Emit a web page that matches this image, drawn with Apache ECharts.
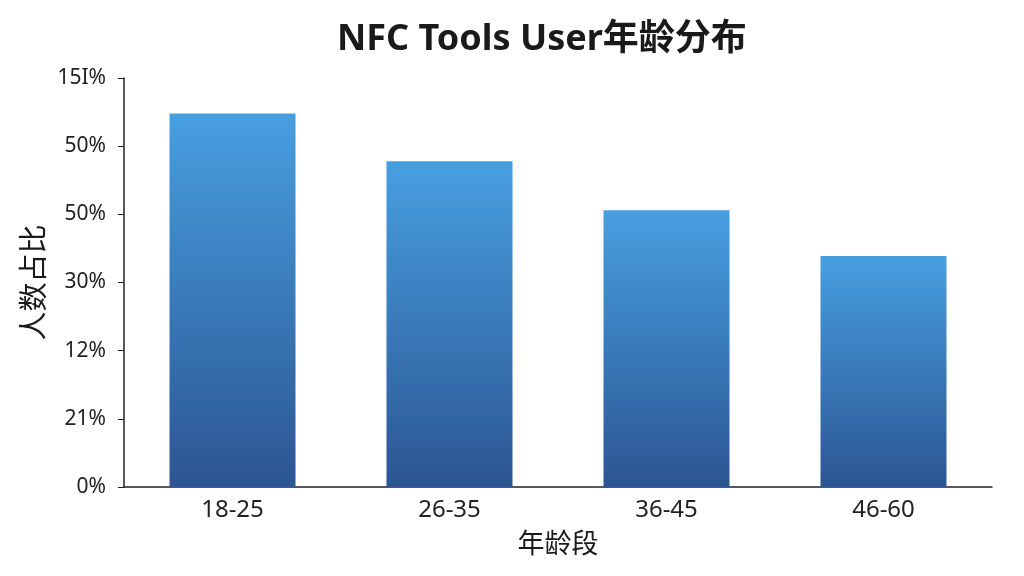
<!DOCTYPE html>
<html>
<head>
<meta charset="utf-8">
<script src="https://cdn.jsdelivr.net/npm/echarts@6/dist/echarts.min.js"></script>
<style>
  html, body { margin: 0; padding: 0; background: #fff; }
  #main { width: 1024px; height: 576px; }
</style>
</head>
<body>
<div id="main"></div>
<script>
// data
var ageGroups = ['18-25', '26-35', '36-45', '46-60'];
var userShare = [54.8, 47.8, 40.6, 33.9];
// tick labels exactly as printed on the reference, bottom to top
var yTickLabels = ['0%', '21%', '12%', '30%', '50%', '50%', '15I%'];

var font = '"Noto Sans", "Noto Sans CJK SC", sans-serif';
var chart = echarts.init(document.getElementById('main'));

var option = {
  backgroundColor: '#fff',
  title: {
    text: 'NFC Tools User年龄分布',
    left: 332,
    top: 17,
    textStyle: {
      fontFamily: font,
      fontSize: 36,
      fontWeight: 'bold',
      color: '#1a1a1a'
    }
  },
  grid: {
    left: 124,
    right: 32,
    top: 78,
    bottom: 89
  },
  xAxis: {
    type: 'category',
    data: ageGroups,
    name: '年龄段',
    nameLocation: 'middle',
    nameGap: 45,
    nameTextStyle: { fontFamily: font, fontSize: 27, color: '#1a1a1a' },
    axisLine: { lineStyle: { color: '#222', width: 1.5 } },
    axisTick: { alignWithLabel: true, length: 6, lineStyle: { color: '#222' } },
    axisLabel: { fontFamily: font, fontSize: 24, color: '#222', margin: 11 }
  },
  yAxis: {
    type: 'value',
    min: 0,
    max: 60,
    interval: 10,
    name: '人数占比',
    nameLocation: 'middle',
    nameRotate: 90,
    nameGap: 74,
    nameMoveOverlap: false,
    nameTextStyle: { fontFamily: font, fontSize: 29, color: '#1a1a1a' },
    axisLine: { show: true, lineStyle: { color: '#222', width: 1.5 } },
    axisTick: { show: true, length: 6, lineStyle: { color: '#222' } },
    splitLine: { show: false },
    axisLabel: {
      fontFamily: font,
      fontSize: 21,
      color: '#222',
      margin: 18,
      formatter: function (v) {
        return yTickLabels[Math.round(v / 10)];
      }
    }
  },
  series: [{
    type: 'bar',
    data: userShare,
    barWidth: 126,
    itemStyle: {
      color: new echarts.graphic.LinearGradient(0, 0, 0, 1, [
        { offset: 0, color: '#479fe0' },
        { offset: 1, color: '#2c5592' }
      ])
    }
  }]
};

chart.setOption(option);
</script>
</body>
</html>
